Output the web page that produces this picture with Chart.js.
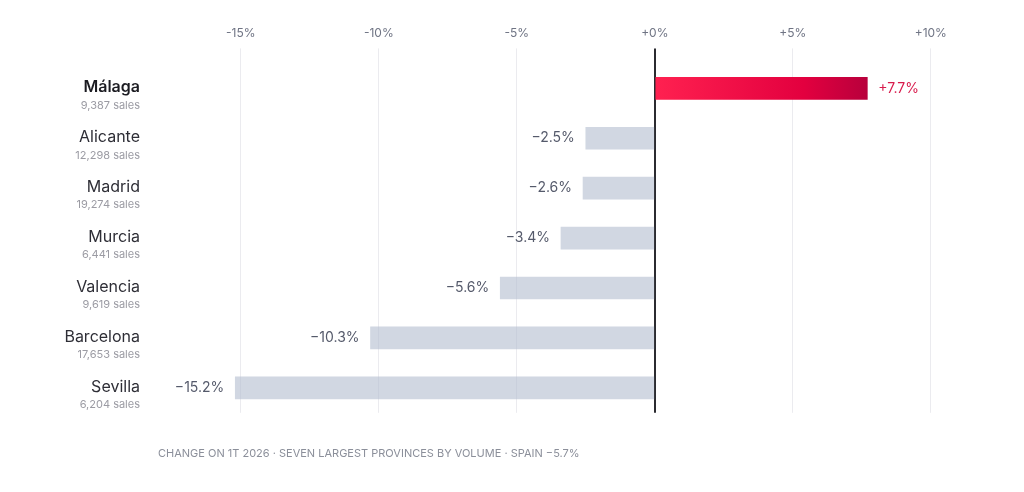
<!DOCTYPE html>
<html>
<head>
<meta charset="utf-8">
<script src="https://cdn.jsdelivr.net/npm/chart.js@4.4.1/dist/chart.umd.min.js"></script>
<style>
  html, body { margin: 0; padding: 0; background: #fff; }
  #wrap { width: 1024px; height: 492px; position: relative; }
</style>
</head>
<body>
<div id="wrap"><canvas id="provChart"></canvas></div>
<script>
// provinces, sorted as in the chart
const provinces = ['Málaga', 'Alicante', 'Madrid', 'Murcia', 'Valencia', 'Barcelona', 'Sevilla'];
const salesCounts = ['9,387', '12,298', '19,274', '6,441', '9,619', '17,653', '6,204'];
const changePct = [7.7, -2.5, -2.6, -3.4, -5.6, -10.3, -15.2];
const xTicks = [-15, -10, -5, 0, 5, 10];
const footerText = 'CHANGE ON 1T 2026 · SEVEN LARGEST PROVINCES BY VOLUME · SPAIN −5.7%';

const FONT = 'Inter, "DejaVu Sans", sans-serif';

function fmtPct(v) {
    const s = Math.abs(v).toFixed(1);
    return (v >= 0 ? '+' : '−') + s + '%';
}

// labels on the left: name + sales underneath
const provinceLabels = {
    id: 'provinceLabels',
    afterDraw(chart) {
        const ctx = chart.ctx;
        const y = chart.scales.y;
        const xLeft = chart.chartArea.left - 18;
        ctx.save();
        ctx.textAlign = 'right';
        ctx.textBaseline = 'middle';
        provinces.forEach((name, i) => {
            const py = y.getPixelForValue(i);
            const highlight = changePct[i] > 0;
            ctx.font = (highlight ? '600 ' : '400 ') + '16px ' + FONT;
            ctx.fillStyle = highlight ? '#1c1c22' : '#2e2e36';
            ctx.fillText(name, xLeft, py - 1);
            ctx.font = '400 11px ' + FONT;
            ctx.fillStyle = '#9b9ba3';
            ctx.fillText(salesCounts[i] + ' sales', xLeft, py + 17);
        });
        ctx.restore();
    }
};

// value labels at bar ends
const valueLabels = {
    id: 'valueLabels',
    afterDatasetsDraw(chart) {
        const ctx = chart.ctx;
        const meta = chart.getDatasetMeta(0);
        ctx.save();
        ctx.font = '400 14px ' + FONT;
        ctx.textBaseline = 'middle';
        meta.data.forEach((bar, i) => {
            const v = changePct[i];
            if (v >= 0) {
                ctx.textAlign = 'left';
                ctx.fillStyle = '#d81b4c';
                ctx.fillText(fmtPct(v), bar.x + 11, bar.y);
            } else {
                ctx.textAlign = 'right';
                ctx.fillStyle = '#555a6b';
                ctx.fillText(fmtPct(v), bar.x - 11, bar.y);
            }
        });
        ctx.restore();
    }
};

function barColor(context) {
    const v = changePct[context.dataIndex];
    if (v < 0) return 'rgba(178, 189, 207, 0.6)';
    const chart = context.chart;
    const area = chart.chartArea;
    if (!area) return '#e8124a';
    const x0 = chart.scales.x.getPixelForValue(0);
    const x1 = chart.scales.x.getPixelForValue(v);
    const g = chart.ctx.createLinearGradient(x0, 0, x1, 0);
    g.addColorStop(0, '#ff2150');
    g.addColorStop(0.7, '#e3003f');
    g.addColorStop(1, '#b8003c');
    return g;
}

const ctx = document.getElementById('provChart').getContext('2d');
new Chart(ctx, {
    type: 'bar',
    data: {
        labels: provinces,
        datasets: [{
            data: changePct,
            backgroundColor: barColor,
            barThickness: 22,
            borderWidth: 0
        }]
    },
    plugins: [provinceLabels, valueLabels],
    options: {
        indexAxis: 'y',
        responsive: true,
        maintainAspectRatio: false,
        animation: false,
        layout: { padding: { top: 18, right: 38, bottom: 32, left: 150 } },
        plugins: {
            legend: { display: false },
            tooltip: { enabled: false },
            title: {
                display: true,
                text: footerText,
                position: 'bottom',
                align: 'start',
                fullSize: false,
                color: '#8b8f9a',
                font: { family: FONT, size: 11, weight: '400' },
                padding: { top: 34, bottom: 0 }
            }
        },
        scales: {
            x: {
                position: 'top',
                min: -18,
                max: 12,
                afterBuildTicks: (scale) => {
                    scale.ticks = xTicks.map(v => ({ value: v }));
                },
                grid: {
                    color: (c) => c.tick && c.tick.value === 0 ? '#2b2b30' : '#ebebef',
                    lineWidth: (c) => c.tick && c.tick.value === 0 ? 2 : 1,
                    tickLength: 15,
                    drawTicks: true
                },
                border: { display: false },
                ticks: {
                    color: '#6f7484',
                    font: { family: FONT, size: 12 },
                    padding: 8,
                    callback: (v) => (v > 0 ? '+' : (v < 0 ? '-' : '+')) + Math.abs(v) + '%'
                }
            },
            y: {
                grid: { display: false },
                border: { display: false },
                ticks: { display: false }
            }
        }
    }
});
</script>
</body>
</html>
